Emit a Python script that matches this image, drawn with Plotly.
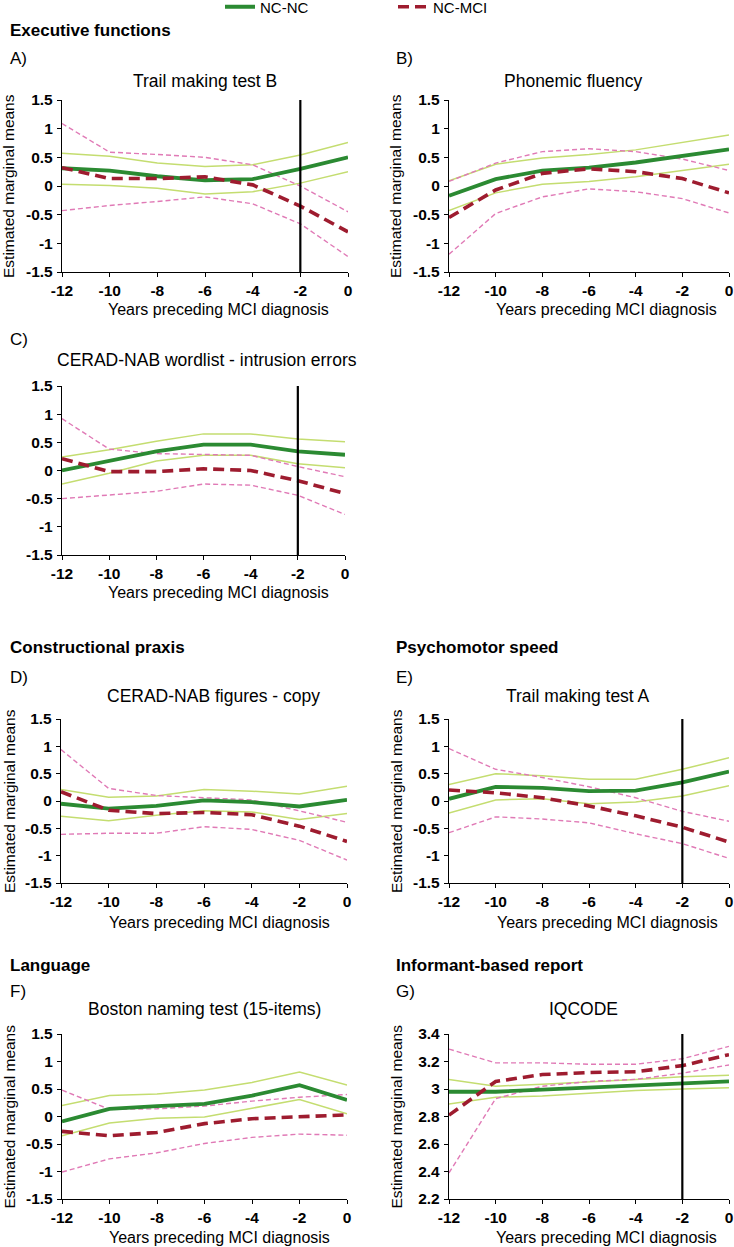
import plotly.graph_objects as go

W, H = 734, 1247
FONT = "Liberation Sans, Arial, sans-serif"

years = [-12, -10, -8, -6, -4, -2, 0]
ticks_z = [-1.5, -1, -0.5, 0, 0.5, 1, 1.5]
ticks_z_text = ["-1.5", "-1", "-0.5", "0", "0.5", "1", "1.5"]
ticks_iq = [2.2, 2.4, 2.6, 2.8, 3.0, 3.2, 3.4]
ticks_iq_text = ["2.2", "2.4", "2.6", "2.8", "3", "3.2", "3.4"]
ticks_x_text = ["-12", "-10", "-8", "-6", "-4", "-2", "0"]

# A) Trail making test B
tmtb_nc = [0.31, 0.27, 0.17, 0.10, 0.12, 0.30, 0.50]
tmtb_nc_hi = [0.57, 0.52, 0.40, 0.34, 0.37, 0.54, 0.76]
tmtb_nc_lo = [0.03, 0.01, -0.04, -0.14, -0.10, 0.05, 0.25]
tmtb_mci = [0.32, 0.13, 0.13, 0.16, 0.02, -0.35, -0.80]
tmtb_mci_hi = [1.09, 0.59, 0.55, 0.50, 0.37, 0.00, -0.45]
tmtb_mci_lo = [-0.43, -0.34, -0.27, -0.19, -0.31, -0.66, -1.23]

# B) Phonemic fluency
phon_nc = [-0.17, 0.12, 0.27, 0.32, 0.41, 0.52, 0.64]
phon_nc_hi = [0.09, 0.38, 0.49, 0.55, 0.63, 0.76, 0.89]
phon_nc_lo = [-0.43, -0.12, 0.03, 0.08, 0.16, 0.27, 0.38]
phon_mci = [-0.55, -0.07, 0.22, 0.30, 0.25, 0.13, -0.12]
phon_mci_hi = [0.08, 0.40, 0.60, 0.65, 0.60, 0.47, 0.27]
phon_mci_lo = [-1.19, -0.48, -0.19, -0.05, -0.10, -0.22, -0.47]

# C) CERAD-NAB wordlist - intrusion errors
intr_nc = [0.00, 0.17, 0.34, 0.46, 0.46, 0.34, 0.28]
intr_nc_hi = [0.24, 0.37, 0.52, 0.65, 0.65, 0.56, 0.51]
intr_nc_lo = [-0.24, -0.05, 0.17, 0.27, 0.27, 0.12, 0.05]
intr_mci = [0.21, -0.02, -0.02, 0.03, 0.00, -0.18, -0.41]
intr_mci_hi = [0.92, 0.38, 0.30, 0.28, 0.27, 0.07, -0.11]
intr_mci_lo = [-0.50, -0.43, -0.37, -0.24, -0.26, -0.44, -0.78]

# D) CERAD-NAB figures - copy
fig_nc = [-0.05, -0.14, -0.09, 0.01, -0.02, -0.10, 0.02]
fig_nc_hi = [0.21, 0.07, 0.09, 0.21, 0.18, 0.13, 0.27]
fig_nc_lo = [-0.28, -0.36, -0.26, -0.18, -0.20, -0.34, -0.23]
fig_mci = [0.17, -0.17, -0.23, -0.21, -0.25, -0.46, -0.74]
fig_mci_hi = [0.94, 0.23, 0.10, 0.06, 0.02, -0.18, -0.39]
fig_mci_lo = [-0.61, -0.59, -0.59, -0.47, -0.52, -0.72, -1.08]

# E) Trail making test A
tmta_nc = [0.04, 0.26, 0.24, 0.18, 0.19, 0.34, 0.54]
tmta_nc_hi = [0.30, 0.50, 0.46, 0.40, 0.40, 0.58, 0.79]
tmta_nc_lo = [-0.22, 0.02, 0.04, -0.05, -0.02, 0.09, 0.28]
tmta_mci = [0.20, 0.15, 0.06, -0.09, -0.27, -0.48, -0.75]
tmta_mci_hi = [0.96, 0.58, 0.43, 0.26, 0.06, -0.19, -0.37]
tmta_mci_lo = [-0.58, -0.29, -0.33, -0.40, -0.60, -0.78, -1.05]

# F) Boston naming test (15-items)
bnt_nc = [-0.09, 0.14, 0.19, 0.23, 0.38, 0.57, 0.30]
bnt_nc_hi = [0.20, 0.38, 0.41, 0.48, 0.62, 0.81, 0.57]
bnt_nc_lo = [-0.35, -0.12, -0.03, -0.01, 0.15, 0.31, 0.05]
bnt_mci = [-0.27, -0.35, -0.29, -0.13, -0.04, 0.00, 0.03]
bnt_mci_hi = [0.48, 0.13, 0.14, 0.19, 0.28, 0.35, 0.40]
bnt_mci_lo = [-1.01, -0.77, -0.66, -0.49, -0.38, -0.32, -0.34]

# G) IQCODE
iq_nc = [2.98, 2.98, 2.995, 3.01, 3.03, 3.045, 3.055]
iq_nc_hi = [3.07, 3.02, 3.035, 3.05, 3.07, 3.09, 3.10]
iq_nc_lo = [2.89, 2.94, 2.95, 2.97, 2.99, 3.00, 3.01]
iq_mci = [2.81, 3.055, 3.105, 3.12, 3.125, 3.17, 3.25]
iq_mci_hi = [3.29, 3.19, 3.19, 3.18, 3.18, 3.22, 3.31]
iq_mci_lo = [2.39, 2.93, 3.02, 3.055, 3.07, 3.115, 3.175]

# year of the vertical reference line (None = no line)
marker_year = [-2, None, -2, None, -2, None, -2]

GREEN = "#2b8a32"
LIGHT_GREEN = "#c4dd70"
DARK_RED = "#9e1c2f"
PINK = "#e07ab6"


def px_x(p):
    return p / W


def px_y(p):
    return 1 - p / H


L_COL = (62, 348)
R_COL = (449, 729)
panels = [
    dict(letter="A)", title="Trail making test B",
         data=(tmtb_nc, tmtb_nc_lo, tmtb_nc_hi, tmtb_mci, tmtb_mci_lo, tmtb_mci_hi),
         xp=L_COL, yp=(100, 272), yr=[-1.5, 1.5], tv=ticks_z, tt=ticks_z_text,
         tcx=205, tcy=81, lx=8, ly=59, xtx=218, xty=309, ytx=9),
    dict(letter="B)", title="Phonemic fluency",
         data=(phon_nc, phon_nc_lo, phon_nc_hi, phon_mci, phon_mci_lo, phon_mci_hi),
         xp=R_COL, yp=(100, 272), yr=[-1.5, 1.5], tv=ticks_z, tt=ticks_z_text,
         tcx=573, tcy=81, lx=394, ly=59, xtx=606, xty=309, ytx=396),
    dict(letter="C)", title="CERAD-NAB wordlist - intrusion errors",
         data=(intr_nc, intr_nc_lo, intr_nc_hi, intr_mci, intr_mci_lo, intr_mci_hi),
         xp=(62, 345), yp=(386, 555), yr=[-1.5, 1.5], tv=ticks_z, tt=ticks_z_text,
         tcx=207, tcy=360, lx=8, ly=340, xtx=218, xty=592, ytx=None),
    dict(letter="D)", title="CERAD-NAB figures - copy",
         data=(fig_nc, fig_nc_lo, fig_nc_hi, fig_mci, fig_mci_lo, fig_mci_hi),
         xp=(61, 347), yp=(719, 883), yr=[-1.5, 1.5], tv=ticks_z, tt=ticks_z_text,
         tcx=214, tcy=696, lx=8, ly=677, xtx=219, xty=923, ytx=9),
    dict(letter="E)", title="Trail making test A",
         data=(tmta_nc, tmta_nc_lo, tmta_nc_hi, tmta_mci, tmta_mci_lo, tmta_mci_hi),
         xp=R_COL, yp=(719, 883), yr=[-1.5, 1.5], tv=ticks_z, tt=ticks_z_text,
         tcx=578, tcy=696, lx=394, ly=677, xtx=607, xty=923, ytx=396),
    dict(letter="F)", title="Boston naming test (15-items)",
         data=(bnt_nc, bnt_nc_lo, bnt_nc_hi, bnt_mci, bnt_mci_lo, bnt_mci_hi),
         xp=(62, 347), yp=(1034, 1199), yr=[-1.5, 1.5], tv=ticks_z, tt=ticks_z_text,
         tcx=204, tcy=1009, lx=8, ly=991, xtx=219, xty=1237, ytx=9),
    dict(letter="G)", title="IQCODE",
         data=(iq_nc, iq_nc_lo, iq_nc_hi, iq_mci, iq_mci_lo, iq_mci_hi),
         xp=R_COL, yp=(1034, 1199), yr=[2.2, 3.4], tv=ticks_iq, tt=ticks_iq_text,
         tcx=583, tcy=1009, lx=394, ly=991, xtx=606, xty=1237, ytx=396),
]

sections = [
    ("Executive functions", 8, 30),
    ("Constructional praxis", 8, 647),
    ("Psychomotor speed", 394, 647),
    ("Language", 8, 965),
    ("Informant-based report", 394, 965),
]

fig = go.Figure()
layout = dict(
    width=W, height=H, margin=dict(l=0, r=0, t=0, b=0, autoexpand=False),
    paper_bgcolor="white", plot_bgcolor="white",
    font=dict(family=FONT, color="black"),
    showlegend=True,
    legend=dict(orientation="h", x=220 / W, y=px_y(7), xanchor="left", yanchor="middle",
                font=dict(size=15, family=FONT), entrywidth=128,
                bgcolor="rgba(0,0,0,0)", borderwidth=0),
)
annotations = []
shapes = []

for i, p in enumerate(panels):
    n = "" if i == 0 else str(i + 1)
    xref, yref = "x" + n, "y" + n
    nc, nc_lo, nc_hi, mci, mci_lo, mci_hi = p["data"]
    first = i == 0
    fig.add_trace(go.Scatter(x=years, y=nc_hi, mode="lines", xaxis=xref, yaxis=yref,
                             line=dict(color=LIGHT_GREEN, width=1.5), showlegend=False,
                             hoverinfo="skip"))
    fig.add_trace(go.Scatter(x=years, y=nc_lo, mode="lines", xaxis=xref, yaxis=yref,
                             line=dict(color=LIGHT_GREEN, width=1.5), showlegend=False,
                             hoverinfo="skip"))
    fig.add_trace(go.Scatter(x=years, y=mci_hi, mode="lines", xaxis=xref, yaxis=yref,
                             line=dict(color=PINK, width=1.4, dash="5px,3px"), showlegend=False,
                             hoverinfo="skip"))
    fig.add_trace(go.Scatter(x=years, y=mci_lo, mode="lines", xaxis=xref, yaxis=yref,
                             line=dict(color=PINK, width=1.4, dash="5px,3px"), showlegend=False,
                             hoverinfo="skip"))
    fig.add_trace(go.Scatter(x=years, y=nc, mode="lines", xaxis=xref, yaxis=yref, name="NC-NC",
                             line=dict(color=GREEN, width=3.8), showlegend=first))
    fig.add_trace(go.Scatter(x=years, y=mci, mode="lines", xaxis=xref, yaxis=yref, name="NC-MCI",
                             line=dict(color=DARK_RED, width=3.6, dash="11px,6px"), showlegend=first))

    if marker_year[i] is not None:
        shapes.append(dict(type="line", xref=xref, yref=yref + " domain",
                           x0=marker_year[i], x1=marker_year[i], y0=0, y1=1,
                           line=dict(color="black", width=2.2), layer="above"))

    axis_common = dict(showline=True, linecolor="black", linewidth=1.3, ticks="outside",
                       ticklen=4, tickwidth=1.2, tickcolor="black", showgrid=False,
                       zeroline=False, automargin=False,
                       tickfont=dict(size=15.5, family=FONT, weight="bold", color="black"))
    layout["xaxis" + n] = dict(axis_common, domain=[px_x(p["xp"][0]), px_x(p["xp"][1])],
                               range=[-12, 0], tickvals=years, ticktext=ticks_x_text,
                               anchor=yref, ticklabelstandoff=0)
    layout["yaxis" + n] = dict(axis_common, domain=[px_y(p["yp"][1]), px_y(p["yp"][0])],
                               range=p["yr"], tickvals=p["tv"], ticktext=p["tt"],
                               anchor=xref, ticklabelstandoff=1)

    annotations.append(dict(text=p["title"], x=px_x(p["tcx"]), y=px_y(p["tcy"]),
                            xref="paper", yref="paper", xanchor="center", yanchor="middle",
                            showarrow=False, font=dict(size=17.5, family=FONT)))
    annotations.append(dict(text=p["letter"], x=px_x(p["lx"]), y=px_y(p["ly"]),
                            xref="paper", yref="paper", xanchor="left", yanchor="middle",
                            showarrow=False, font=dict(size=17, family=FONT)))
    annotations.append(dict(text="Years preceding MCI diagnosis", x=px_x(p["xtx"]),
                            y=px_y(p["xty"]), xref="paper", yref="paper",
                            xanchor="center", yanchor="middle", showarrow=False,
                            font=dict(size=16, family=FONT)))
    if p["ytx"] is not None:
        yc = (p["yp"][0] + p["yp"][1]) / 2
        annotations.append(dict(text="Estimated marginal means", x=px_x(p["ytx"]),
                                y=px_y(yc), xref="paper", yref="paper",
                                xanchor="center", yanchor="middle", textangle=-90,
                                showarrow=False, font=dict(size=15.5, family=FONT)))

for text, x, y in sections:
    annotations.append(dict(text="<b>" + text + "</b>", x=px_x(x), y=px_y(y),
                            xref="paper", yref="paper", xanchor="left", yanchor="middle",
                            showarrow=False, font=dict(size=17, family=FONT)))

layout["annotations"] = annotations
layout["shapes"] = shapes
fig.update_layout(**layout)
fig.write_html(
    "out.html",
    config={"displayModeBar": False},
    post_script="document.body.style.margin='0';document.body.style.overflow='hidden';",
)
